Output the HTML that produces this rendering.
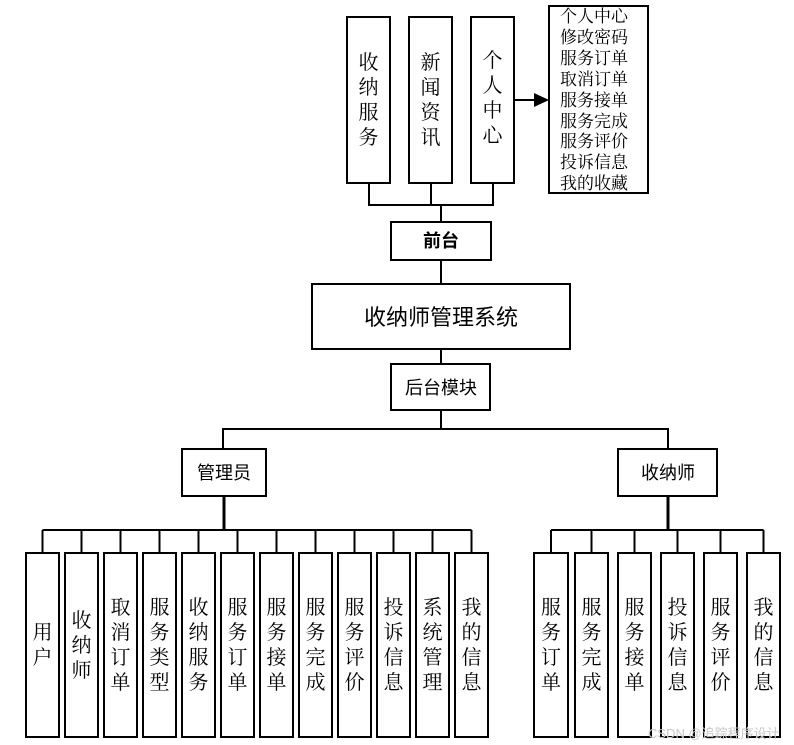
<!DOCTYPE html>
<html><head><meta charset="utf-8"><style>
html,body{margin:0;padding:0;background:#fff;}
svg{display:block;}
text{font-family:"Liberation Sans","Noto Sans CJK SC",sans-serif;fill:#000;}
.sr text, text.sr{font-family:"Liberation Serif","Noto Serif CJK SC",serif;}
</style></head><body>
<svg width="794" height="745" viewBox="0 0 794 745" xmlns="http://www.w3.org/2000/svg">
<g fill="none" stroke="#000" stroke-width="2">
<rect x="347" y="17" width="43" height="166"/>
<rect x="409" y="17" width="43" height="166"/>
<rect x="471" y="17" width="43" height="166"/>
<rect x="549" y="6" width="99" height="187"/>
<path d="M369 183V205M431 183V205M493 183V205M368 205H494M441 205V222"/>
<path d="M514 100H536"/>
<rect x="391" y="222" width="100" height="38"/>
<path d="M441 260V284"/>
<rect x="312" y="284" width="258" height="65"/>
<path d="M441 349V364"/>
<rect x="391" y="364" width="99" height="46"/>
<path d="M441 410V429M222 429H669M223 429V449M668 429V449"/>
<rect x="182" y="449" width="84" height="47"/>
<rect x="618" y="449" width="99" height="47"/>
<path d="M224 496V530M668 496V530" stroke-width="3"/>
<path d="M42.5 530H471.5M551 530H763.5"/>
<path d="M42.5 530V553M81.5 530V553M120.5 530V553M159.5 530V553M198.5 530V553M237.5 530V553M276.5 530V553M315.5 530V553M354.5 530V553M393.5 530V553M432.5 530V553M471.5 530V553"/>
<path d="M551 530V553M591.5 530V553M634.5 530V553M677.5 530V553M720.5 530V553M763.5 530V553"/>
<rect x="26" y="553" width="33" height="184"/>
<rect x="65" y="553" width="33" height="184"/>
<rect x="104" y="553" width="33" height="184"/>
<rect x="143" y="553" width="33" height="184"/>
<rect x="182" y="553" width="33" height="184"/>
<rect x="221" y="553" width="33" height="184"/>
<rect x="260" y="553" width="33" height="184"/>
<rect x="299" y="553" width="33" height="184"/>
<rect x="338" y="553" width="33" height="184"/>
<rect x="377" y="553" width="33" height="184"/>
<rect x="416" y="553" width="33" height="184"/>
<rect x="455" y="553" width="33" height="184"/>
<rect x="534" y="553" width="34" height="184"/>
<rect x="575" y="553" width="33" height="184"/>
<rect x="618" y="553" width="33" height="184"/>
<rect x="661" y="553" width="33" height="184"/>
<rect x="704" y="553" width="33" height="184"/>
<rect x="747" y="553" width="33" height="184"/>
</g>
<polygon points="534,93 549,100 534,107" fill="#000"/>
<g class="sr" font-size="20" text-anchor="middle">
<text x="368.5" y="69"><tspan x="368.5">收</tspan><tspan x="368.5" dy="25">纳</tspan><tspan x="368.5" dy="25">服</tspan><tspan x="368.5" dy="25">务</tspan></text>
<text x="430.5" y="69"><tspan x="430.5">新</tspan><tspan x="430.5" dy="25">闻</tspan><tspan x="430.5" dy="25">资</tspan><tspan x="430.5" dy="25">讯</tspan></text>
<text x="492.5" y="67"><tspan x="492.5">个</tspan><tspan x="492.5" dy="25">人</tspan><tspan x="492.5" dy="25">中</tspan><tspan x="492.5" dy="25">心</tspan></text>
</g>
<g class="sr" font-size="17">
<text x="560" y="22">个人中心</text>
<text x="560" y="43">修改密码</text>
<text x="560" y="64">服务订单</text>
<text x="560" y="85">取消订单</text>
<text x="560" y="106">服务接单</text>
<text x="560" y="127">服务完成</text>
<text x="560" y="147">服务评价</text>
<text x="560" y="168">投诉信息</text>
<text x="560" y="189">我的收藏</text>
</g>
<g text-anchor="middle">
<text x="441" y="247" font-size="18" font-weight="bold">前台</text>
<text x="441" y="325" font-size="22">收纳师管理系统</text>
<text x="441" y="394" font-size="18">后台模块</text>
<text x="224" y="479" font-size="18">管理员</text>
<text x="668" y="479" font-size="18">收纳师</text>
</g>
<g class="sr" font-size="20" text-anchor="middle">
<text y="639"><tspan x="42.5">用</tspan><tspan x="42.5" dy="25">户</tspan></text>
<text y="627"><tspan x="81.5">收</tspan><tspan x="81.5" dy="25">纳</tspan><tspan x="81.5" dy="25">师</tspan></text>
<text y="614"><tspan x="120.5">取</tspan><tspan x="120.5" dy="25">消</tspan><tspan x="120.5" dy="25">订</tspan><tspan x="120.5" dy="25">单</tspan></text>
<text y="614"><tspan x="159.5">服</tspan><tspan x="159.5" dy="25">务</tspan><tspan x="159.5" dy="25">类</tspan><tspan x="159.5" dy="25">型</tspan></text>
<text y="614"><tspan x="198.5">收</tspan><tspan x="198.5" dy="25">纳</tspan><tspan x="198.5" dy="25">服</tspan><tspan x="198.5" dy="25">务</tspan></text>
<text y="614"><tspan x="237.5">服</tspan><tspan x="237.5" dy="25">务</tspan><tspan x="237.5" dy="25">订</tspan><tspan x="237.5" dy="25">单</tspan></text>
<text y="614"><tspan x="276.5">服</tspan><tspan x="276.5" dy="25">务</tspan><tspan x="276.5" dy="25">接</tspan><tspan x="276.5" dy="25">单</tspan></text>
<text y="614"><tspan x="315.5">服</tspan><tspan x="315.5" dy="25">务</tspan><tspan x="315.5" dy="25">完</tspan><tspan x="315.5" dy="25">成</tspan></text>
<text y="614"><tspan x="354.5">服</tspan><tspan x="354.5" dy="25">务</tspan><tspan x="354.5" dy="25">评</tspan><tspan x="354.5" dy="25">价</tspan></text>
<text y="614"><tspan x="393.5">投</tspan><tspan x="393.5" dy="25">诉</tspan><tspan x="393.5" dy="25">信</tspan><tspan x="393.5" dy="25">息</tspan></text>
<text y="614"><tspan x="432.5">系</tspan><tspan x="432.5" dy="25">统</tspan><tspan x="432.5" dy="25">管</tspan><tspan x="432.5" dy="25">理</tspan></text>
<text y="614"><tspan x="471.5">我</tspan><tspan x="471.5" dy="25">的</tspan><tspan x="471.5" dy="25">信</tspan><tspan x="471.5" dy="25">息</tspan></text>
<text y="614"><tspan x="551">服</tspan><tspan x="551" dy="25">务</tspan><tspan x="551" dy="25">订</tspan><tspan x="551" dy="25">单</tspan></text>
<text y="614"><tspan x="591.5">服</tspan><tspan x="591.5" dy="25">务</tspan><tspan x="591.5" dy="25">完</tspan><tspan x="591.5" dy="25">成</tspan></text>
<text y="614"><tspan x="634.5">服</tspan><tspan x="634.5" dy="25">务</tspan><tspan x="634.5" dy="25">接</tspan><tspan x="634.5" dy="25">单</tspan></text>
<text y="614"><tspan x="677.5">投</tspan><tspan x="677.5" dy="25">诉</tspan><tspan x="677.5" dy="25">信</tspan><tspan x="677.5" dy="25">息</tspan></text>
<text y="614"><tspan x="720.5">服</tspan><tspan x="720.5" dy="25">务</tspan><tspan x="720.5" dy="25">评</tspan><tspan x="720.5" dy="25">价</tspan></text>
<text y="614"><tspan x="763.5">我</tspan><tspan x="763.5" dy="25">的</tspan><tspan x="763.5" dy="25">信</tspan><tspan x="763.5" dy="25">息</tspan></text>
</g>
<text x="648" y="738" font-size="13" style="fill:#c8c8c8">CSDN @追踪程序设计</text>
</svg>
</body></html>
